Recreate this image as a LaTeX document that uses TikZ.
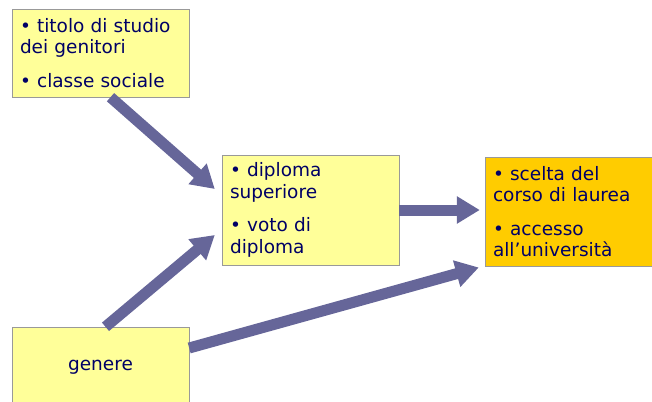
\documentclass[tikz,border=0pt]{standalone}
\usepackage{fontspec}
\setmainfont{DejaVu Sans}
\usepackage{xcolor}
\usetikzlibrary{arrows.meta}
\definecolor{boxyel}{HTML}{FFFF99}
\definecolor{boxora}{HTML}{FFCC00}
\definecolor{boxtxt}{HTML}{000066}
\definecolor{arrcol}{HTML}{666699}
\tikzset{
  box/.style = {draw=gray!80, fill=boxyel, text=boxtxt, align=left,
    inner sep=0pt, font=\fontsize{18.5}{21.5}\selectfont},% riquadro giallo
  box_o/.style = {box, fill=boxora},% riquadro arancio
  bigarr/.style = {arrcol, line width=11pt,
    -{Triangle[length=23pt,width=26pt]}}% freccia grossa
}

\begin{document}
\begin{tikzpicture}[x=1pt,y=-1pt]
\useasboundingbox (0,0) rectangle (652,401);
\node [box, minimum width=177pt, minimum height=88pt, text width=161pt]
  (tit) at (100.5,53) {• titolo di studio\\dei genitori\\[12pt]• classe sociale};
\node [box, minimum width=177pt, minimum height=110pt, text width=161pt]
  (dip) at (310.5,210) {• diploma\\superiore\\[12pt]• voto di\\diploma};
\node [box_o, minimum width=167pt, minimum height=109pt, text width=151pt]
  (sce) at (568.5,211.5) {• scelta del\\corso di laurea\\[12pt]• accesso\\all’università};
\node [box, align=center, minimum width=177pt, minimum height=80pt]
  (gen) at (100.5,367) {genere};

\draw [bigarr] ([xshift=10pt]tit.south) -- ([xshift=-7pt,yshift=21pt]dip.west);
\draw [bigarr] ([xshift=5pt]gen.north) -- ([xshift=-7pt,yshift=-25pt]dip.west);
\draw [bigarr] (dip.east) -- ([xshift=-5pt,yshift=1.5pt]sce.west);
\draw [bigarr] ([yshift=19pt]gen.east) -- ([xshift=-6pt,yshift=-56pt]sce.west);
\end{tikzpicture}
\end{document}
